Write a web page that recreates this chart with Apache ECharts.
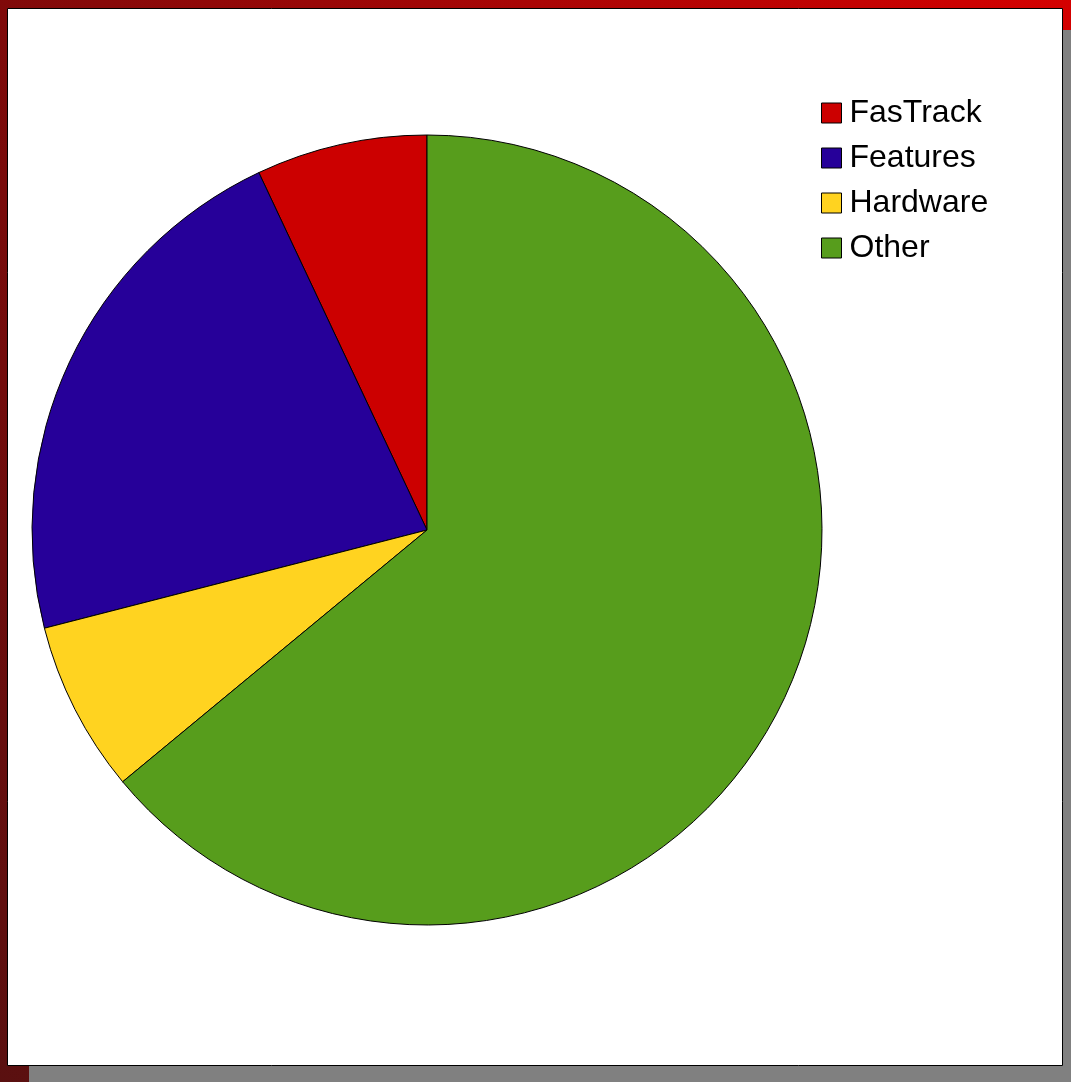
<!DOCTYPE html>
<html>
<head>
<meta charset="utf-8">
<script src="https://cdn.jsdelivr.net/npm/echarts@6/dist/echarts.min.js"></script>
<style>
  html, body { margin: 0; padding: 0; background: #fff; }
  #chart { width: 1071px; height: 1082px; }
</style>
</head>
<body>
<div id="chart"></div>
<script>
const categories = ['FasTrack', 'Features', 'Hardware', 'Other'];
const values = [7, 22, 7, 64];
const colors = ['#cc0000', '#260099', '#ffd320', '#579d1c'];

const chart = echarts.init(document.getElementById('chart'), null, { renderer: 'canvas' });

const option = {
    animation: false,
    graphic: [
        {
            type: 'rect',
            z: -10,
            shape: { x: 0, y: 0, width: 1071, height: 1082 },
            style: {
                fill: new echarts.graphic.LinearGradient(0, 1, 1, 0, [
                    { offset: 0, color: '#5a1010' },
                    { offset: 0.5, color: '#7f0a0a' },
                    { offset: 1, color: '#d40000' }
                ])
            }
        },
        {
            // shadow
            type: 'rect',
            z: -9,
            shape: { x: 29, y: 30, width: 1042, height: 1052 },
            style: { fill: '#808080' }
        },
        {
            type: 'rect',
            z: -8,
            shape: { x: 7.5, y: 8.5, width: 1055, height: 1057 },
            style: { fill: '#ffffff', stroke: '#000000', lineWidth: 1 }
        }
    ],
    legend: {
        orient: 'vertical',
        left: 821,
        top: 97,
        padding: 0,
        itemWidth: 20,
        itemHeight: 20,
        itemGap: 13,
        icon: 'rect',
        data: categories,
        textStyle: {
            fontFamily: 'Liberation Sans, Arial, sans-serif',
            fontSize: 32,
            lineHeight: 32,
            color: '#000',
            padding: [0, 0, 0, 3]
        },
        itemStyle: { borderColor: '#000', borderWidth: 1 }
    },
    series: [{
        type: 'pie',
        center: [427, 530],
        radius: [0, 395],
        startAngle: 90,
        clockwise: false,
        label: { show: false },
        labelLine: { show: false },
        emphasis: { disabled: true },
        itemStyle: { borderColor: '#000', borderWidth: 1 },
        data: categories.map((c, i) => ({
            name: c,
            value: values[i],
            itemStyle: { color: colors[i] }
        }))
    }]
};

chart.setOption(option);
</script>
</body>
</html>
